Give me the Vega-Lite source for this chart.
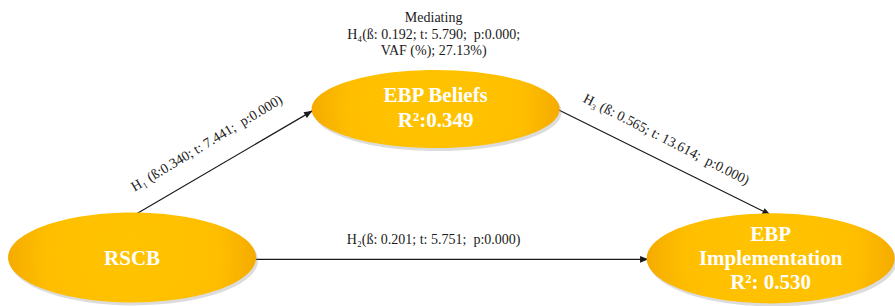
{
  "$schema": "https://vega.github.io/schema/vega-lite/v6.json",
  "width": 895,
  "height": 306,
  "padding": 0,
  "autosize": {"type": "fit", "contains": "padding"},
  "background": "white",
  "config": {"view": {"stroke": null}},
  "datasets": {
    "nodes": [
      {"node": "RSCB", "x": 134, "y": 267},
      {"node": "EBP Beliefs", "x": 442, "y": 113},
      {"node": "EBP Implementation", "x": 782, "y": 268}
    ],
    "paths": [
      {"path": "H1", "x": 133, "y": 225, "x2": 317, "y2": 115},
      {"path": "H2", "x": 258, "y": 269, "x2": 658, "y2": 269},
      {"path": "H3", "x": 565, "y": 113, "x2": 782, "y2": 223}
    ],
    "nodeText": [
      {"text": "RSCB", "x": 134, "y": 269},
      {"text": "EBP Beliefs", "x": 442, "y": 100},
      {"text": "R²:0.349", "x": 442, "y": 125},
      {"text": "EBP", "x": 782, "y": 244},
      {"text": "Implementation", "x": 782, "y": 269},
      {"text": "R²: 0.530", "x": 782, "y": 294}
    ],
    "labels": [
      {"id": "H1", "text": "H₁ (ß:0.340; t: 7.441;\u00a0 p:0.000)", "x": 210, "y": 149},
      {"id": "H2", "text": "H₂(ß: 0.201; t: 5.751;\u00a0 p:0.000)", "x": 440, "y": 249},
      {"id": "H3", "text": "H₃ (ß: 0.565; t: 13.614;\u00a0 p:0.000)", "x": 676, "y": 145},
      {"id": "H4a", "text": "Mediating", "x": 440, "y": 19},
      {"id": "H4b", "text": "H₄(ß: 0.192; t: 5.790;\u00a0 p:0.000;", "x": 440, "y": 36},
      {"id": "H4c", "text": "VAF (%); 27.13%)", "x": 440, "y": 53}
    ]
  },
  "encoding": {
    "x": {"field": "x", "type": "quantitative", "scale": {"domain": [0, 895], "nice": false, "zero": false}, "axis": null},
    "y": {"field": "y", "type": "quantitative", "scale": {"domain": [0, 306], "nice": false, "zero": false, "reverse": true}, "axis": null}
  },
  "layer": [
    {
      "data": {"name": "paths"},
      "mark": {"type": "rule", "color": "#1a1a1a", "strokeWidth": 1.2},
      "encoding": {
        "x2": {"field": "x2"},
        "y2": {"field": "y2"}
      }
    },
    {
      "data": {"name": "paths"},
      "transform": [
        {"calculate": "atan2(datum.x2 - datum.x, datum.y - datum.y2) * 180 / PI", "as": "ang"}
      ],
      "mark": {"type": "point", "shape": "M0,0L-1.1,2.8L1.1,2.8Z", "filled": true, "color": "#1a1a1a", "opacity": 1},
      "encoding": {
        "x": {"field": "x2", "type": "quantitative"},
        "y": {"field": "y2", "type": "quantitative"},
        "angle": {"field": "ang", "type": "quantitative", "scale": null},
        "size": {"value": 36}
      }
    },
    {
      "data": {"name": "nodes"},
      "transform": [{"filter": "datum.node !== 'EBP Beliefs'"}],
      "mark": {"type": "point", "shape": "M-1,0A1,0.363,0,1,0,1,0A1,0.363,0,1,0,-1,0Z", "filled": true, "color": "#8a8a8a", "opacity": 0.3, "xOffset": 2, "yOffset": 3},
      "encoding": {"size": {"value": 61504}}
    },
    {
      "data": {"name": "nodes"},
      "transform": [{"filter": "datum.node === 'EBP Beliefs'"}],
      "mark": {"type": "point", "shape": "M-1,0A1,0.315,0,1,0,1,0A1,0.315,0,1,0,-1,0Z", "filled": true, "color": "#8a8a8a", "opacity": 0.3, "xOffset": 2, "yOffset": 3},
      "encoding": {"size": {"value": 61504}}
    },
    {
      "data": {"name": "nodes"},
      "transform": [{"filter": "datum.node !== 'EBP Beliefs'"}],
      "mark": {
        "type": "point", "shape": "M-1,0A1,0.363,0,1,0,1,0A1,0.363,0,1,0,-1,0Z", "filled": true, "opacity": 1,
        "fill": {"gradient": "radial", "x1": 0.5, "y1": 0.45, "r1": 0, "x2": 0.5, "y2": 0.5, "r2": 0.5,
          "stops": [{"offset": 0, "color": "#FFC300"}, {"offset": 0.7, "color": "#FFBF00"}, {"offset": 1, "color": "#F5AB00"}]}
      },
      "encoding": {"size": {"value": 61504}}
    },
    {
      "data": {"name": "nodes"},
      "transform": [{"filter": "datum.node === 'EBP Beliefs'"}],
      "mark": {
        "type": "point", "shape": "M-1,0A1,0.315,0,1,0,1,0A1,0.315,0,1,0,-1,0Z", "filled": true, "opacity": 1,
        "fill": {"gradient": "radial", "x1": 0.5, "y1": 0.45, "r1": 0, "x2": 0.5, "y2": 0.5, "r2": 0.5,
          "stops": [{"offset": 0, "color": "#FFC300"}, {"offset": 0.7, "color": "#FFBF00"}, {"offset": 1, "color": "#F5AB00"}]}
      },
      "encoding": {"size": {"value": 61504}}
    },
    {
      "data": {"name": "nodeText"},
      "mark": {"type": "text", "font": "Liberation Serif", "fontWeight": "bold", "fontSize": 21, "color": "white", "align": "center", "baseline": "middle"},
      "encoding": {"text": {"field": "text"}}
    },
    {
      "data": {"name": "labels"},
      "transform": [{"filter": "datum.id !== 'H1' && datum.id !== 'H3'"}],
      "mark": {"type": "text", "font": "Liberation Serif", "fontSize": 14, "color": "#1a1a1a", "align": "center", "baseline": "middle"},
      "encoding": {"text": {"field": "text"}}
    },
    {
      "data": {"name": "labels"},
      "transform": [{"filter": "datum.id === 'H1'"}],
      "mark": {"type": "text", "font": "Liberation Serif", "fontSize": 14, "color": "#1a1a1a", "align": "center", "baseline": "middle", "angle": 329},
      "encoding": {"text": {"field": "text"}}
    },
    {
      "data": {"name": "labels"},
      "transform": [{"filter": "datum.id === 'H3'"}],
      "mark": {"type": "text", "font": "Liberation Serif", "fontSize": 14, "color": "#1a1a1a", "align": "center", "baseline": "middle", "angle": 27},
      "encoding": {"text": {"field": "text"}}
    }
  ]
}
